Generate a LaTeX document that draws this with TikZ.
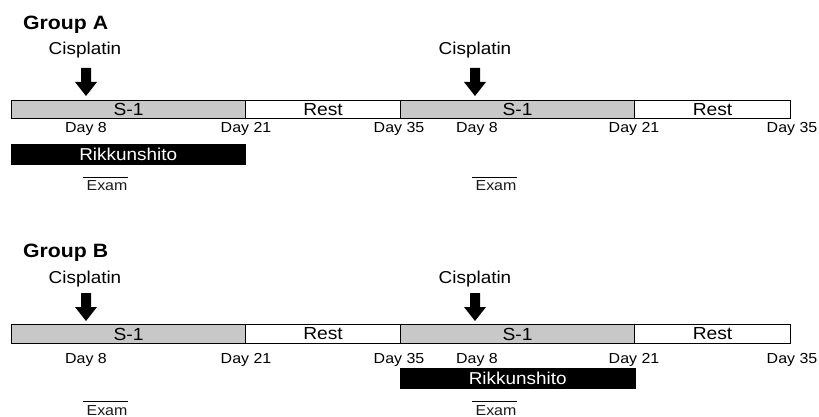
\documentclass[tikz,border=0pt]{standalone}
\usepackage{fontspec}
\setmainfont[FakeStretch=1.1]{Liberation Sans}
\definecolor{barfill}{RGB}{200,200,200}
\begin{document}
\begin{tikzpicture}[x=1pt,y=-1pt,
  seg/.style={draw=black, line width=1.1pt, inner sep=0, anchor=north west,
    font=\fontsize{17.5}{17.5}\selectfont},
  sseg/.style={seg, fill=barfill},
  rseg/.style={seg, fill=white},
  rik/.style={fill=black, draw=black, inner sep=0, anchor=north west,
    text=white, font=\fontsize{17.2}{17.2}\selectfont},
  daylbl/.style={anchor=base, inner sep=0, font=\fontsize{14.5}{15}\selectfont},
  exlbl/.style={anchor=base, inner sep=0, text=black!90, font=\fontsize{14.5}{15}\selectfont},
  cislbl/.style={anchor=base, inner sep=0, font=\fontsize{17.2}{17.2}\selectfont},
  grplbl/.style={anchor=base west, inner sep=0, font=\fontsize{19.3}{19.3}\bfseries\selectfont},
  overl/.style={draw=black, line width=0.7pt},
  cisarrow/.pic={\fill[black] (-5,0) -- (5,0) -- (5,14) -- (11,14) -- (0,28) -- (-11,14) -- (-5,14) -- cycle;}
]
\useasboundingbox (0,0) rectangle (819,417);

% ---------------- Group A ----------------
\node[grplbl] (gA) at (23,30) {Group A};
\node[cislbl] (cA1) at (85,55) {Cisplatin};
\node[cislbl] (cA2) at (475,55) {Cisplatin};
\pic at (86,68) {cisarrow};
\pic at (475,68) {cisarrow};

\node[sseg, minimum width=234, minimum height=18] (sA1) at (11,100) {S-1};
\node[rseg, minimum width=155, minimum height=18] (rA1) at (245,100) {Rest};
\node[sseg, minimum width=234, minimum height=18] (sA2) at (400,100) {S-1};
\node[rseg, minimum width=156, minimum height=18] (rA2) at (634,100) {Rest};

\node[daylbl] (dA1) at (86,133) {Day 8};
\node[daylbl] (dA2) at (246,133) {Day 21};
\node[daylbl] (dA3) at (399,133) {Day 35};
\node[daylbl] (dA4) at (477,133) {Day 8};
\node[daylbl] (dA5) at (634,133) {Day 21};
\node[daylbl] (dA6) at (792,133) {Day 35};

\node[rik, minimum width=234, minimum height=20] (kA) at (11,144) {Rikkunshito};

\node[exlbl] (eA1) at (107,190) {Exam};
\node[exlbl] (eA2) at (496,190) {Exam};
\coordinate (oA1s) at (83,177); \coordinate (oA1e) at (128,177);
\coordinate (oA2s) at (472,177); \coordinate (oA2e) at (517,177);
\draw[overl] (oA1s) -- (oA1e);
\draw[overl] (oA2s) -- (oA2e);

% ---------------- Group B ----------------
\node[grplbl] (gB) at (23,257) {Group B};
\node[cislbl] (cB1) at (85,283) {Cisplatin};
\node[cislbl] (cB2) at (475,283) {Cisplatin};
\pic at (86,293) {cisarrow};
\pic at (475,293) {cisarrow};

\node[sseg, minimum width=234, minimum height=19] (sB1) at (11,324) {S-1};
\node[rseg, minimum width=155, minimum height=19] (rB1) at (245,324) {Rest};
\node[sseg, minimum width=234, minimum height=19] (sB2) at (400,324) {S-1};
\node[rseg, minimum width=156, minimum height=19] (rB2) at (634,324) {Rest};

\node[daylbl] (dB1) at (86,363) {Day 8};
\node[daylbl] (dB2) at (246,363) {Day 21};
\node[daylbl] (dB3) at (399,363) {Day 35};
\node[daylbl] (dB4) at (477,363) {Day 8};
\node[daylbl] (dB5) at (634,363) {Day 21};
\node[daylbl] (dB6) at (792,363) {Day 35};

\node[rik, minimum width=235, minimum height=20] (kB) at (400,368) {Rikkunshito};

\node[exlbl] (eB1) at (107,415) {Exam};
\node[exlbl] (eB2) at (496,415) {Exam};
\coordinate (oB1s) at (83,401); \coordinate (oB1e) at (128,401);
\coordinate (oB2s) at (472,401); \coordinate (oB2e) at (517,401);
\draw[overl] (oB1s) -- (oB1e);
\draw[overl] (oB2s) -- (oB2e);
\end{tikzpicture}
\end{document}
